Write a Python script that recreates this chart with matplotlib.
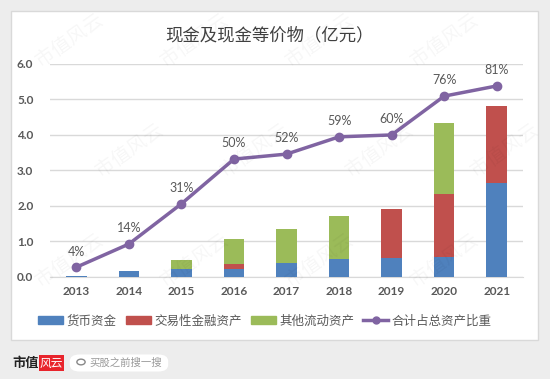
import matplotlib
matplotlib.use('Agg')
import matplotlib.pyplot as plt
from matplotlib.patches import FancyBboxPatch, Rectangle, Circle
from matplotlib.lines import Line2D

plt.rcParams['font.family'] = ['Noto Sans CJK SC', 'DejaVu Sans']

# 数据（亿元）
years = ['2013', '2014', '2015', '2016', '2017', '2018', '2019', '2020', '2021']
cash = [0.03, 0.17, 0.23, 0.23, 0.38, 0.49, 0.52, 0.55, 2.63]
trading_assets = [0.0, 0.0, 0.0, 0.13, 0.0, 0.0, 1.40, 1.77, 2.18]
other_current = [0.0, 0.0, 0.25, 0.70, 0.96, 1.22, 0.0, 2.02, 0.0]
share_of_assets = [0.040, 0.138, 0.308, 0.497, 0.518, 0.591, 0.599, 0.763, 0.806]

series_names = ['货币资金', '交易性金融资产', '其他流动资产', '合计占总资产比重']
colors = ['#4F81BD', '#C0504D', '#9BBB59', '#8064A2']
txt_gray = '#595959'

fig = plt.figure(figsize=(5.5, 3.79), dpi=100)
fig.patch.set_facecolor('#ededed')

# 白色面板
panel = FancyBboxPatch((11 / 550, 39 / 379), 527 / 550, 329 / 379,
                       boxstyle='square,pad=0', transform=fig.transFigure,
                       facecolor='white', edgecolor='#d9d9d9', linewidth=1, zorder=-5)
fig.patches.append(panel)

# 水印
for row, yy in enumerate(range(40, 360, 110)):
    shift = 60 if row % 2 else 0
    for xx in range(70 + shift, 520, 125):
        fig.text(xx / 550, 1 - yy / 379, '市值风云', fontsize=14, rotation=35,
                 color='#000000', alpha=0.035, ha='center', va='center', zorder=10)

ax = fig.add_axes([50 / 550, 102.3 / 379, 473 / 550, 213 / 379])
ax.set_facecolor('none')
x = list(range(len(years)))
w = 0.39
bottom2 = [a + b for a, b in zip(cash, trading_assets)]
ax.bar(x, cash, w, color=colors[0], zorder=3, label=series_names[0])
ax.bar(x, trading_assets, w, bottom=cash, color=colors[1], zorder=3, label=series_names[1])
ax.bar(x, other_current, w, bottom=bottom2, color=colors[2], zorder=3, label=series_names[2])

ax.set_xlim(-0.5, len(years) - 0.5)
ax.set_ylim(0, 6)
ax.set_yticks([0, 1, 2, 3, 4, 5, 6])
ax.set_yticklabels([f'{v:.1f}' for v in range(7)])
ax.set_xticks(x)
ax.set_xticklabels(years)
for lab in ax.get_xticklabels() + ax.get_yticklabels():
    lab.set_family(['Lato', 'DejaVu Sans'])
    lab.set_fontweight('bold')
    lab.set_fontsize(8.5)
    lab.set_color(txt_gray)
ax.tick_params(axis='both', length=0)
ax.tick_params(axis='y', pad=12)
ax.tick_params(axis='x', pad=7)
ax.grid(axis='y', color='#d9d9d9', linewidth=1, zorder=0)
for s in ['top', 'right', 'left']:
    ax.spines[s].set_visible(False)
ax.spines['bottom'].set_color('#d9d9d9')

ax2 = ax.twinx()
ax2.set_ylim(0, 0.9)
ax2.plot(x, share_of_assets, color=colors[3], linewidth=2.5, marker='o',
         markersize=6, zorder=4, label=series_names[3])
for xi, v in zip(x, share_of_assets):
    ax2.annotate(f'{v * 100:.0f}%', (xi, v), xytext=(0, 7), textcoords='offset points',
                 ha='center', va='bottom', fontsize=9, color=txt_gray,
                 family=['Lato', 'DejaVu Sans'])
ax2.axis('off')

fig.text(0.49, 1 - 35 / 379, '现金及现金等价物（亿元）', ha='center', va='center',
         fontsize=12.5, color='#404040')

handles = [Rectangle((0, 0), 1, 1, color=c) for c in colors[:3]]
handles.append(Line2D([0], [0], color=colors[3], linewidth=2.5, marker='o', markersize=5))
fig.legend(handles, series_names, loc='center', bbox_to_anchor=(0.482, 1 - 321 / 379),
           ncol=4, frameon=False, fontsize=9, handlelength=2.0, handleheight=0.55,
           handletextpad=0.3, columnspacing=0.7, labelcolor=txt_gray)

# 底部标识
fig.text(12 / 550, 1 - 363 / 379, '市值', fontsize=9.5, fontweight='bold',
         color='#222222', va='center', ha='left')
fig.patches.append(Rectangle((39 / 550, 1 - 371 / 379), 25 / 550, 16 / 379,
                             transform=fig.transFigure, facecolor='#e8242c',
                             edgecolor='none', zorder=5))
fig.text(51.5 / 550, 1 - 363 / 379, '风云', fontsize=8.5, style='italic', color='white',
         va='center', ha='center', zorder=6)
fig.patches.append(FancyBboxPatch((72 / 550, 1 - 370 / 379), 94 / 550, 14 / 379,
                                  boxstyle='round,pad=0.004,rounding_size=0.018',
                                  transform=fig.transFigure, facecolor='white',
                                  edgecolor='none', zorder=5))
fig.patches.append(Circle((81 / 550, 1 - 362 / 379), 0.0075, transform=fig.transFigure,
                          facecolor='none', edgecolor='#888888', linewidth=1, zorder=6))
fig.text(89 / 550, 1 - 363 / 379, '买股之前搜一搜', fontsize=7.5, color='#999999',
         va='center', ha='left', zorder=6)

fig.savefig('out.png', dpi=100, facecolor=fig.get_facecolor())
